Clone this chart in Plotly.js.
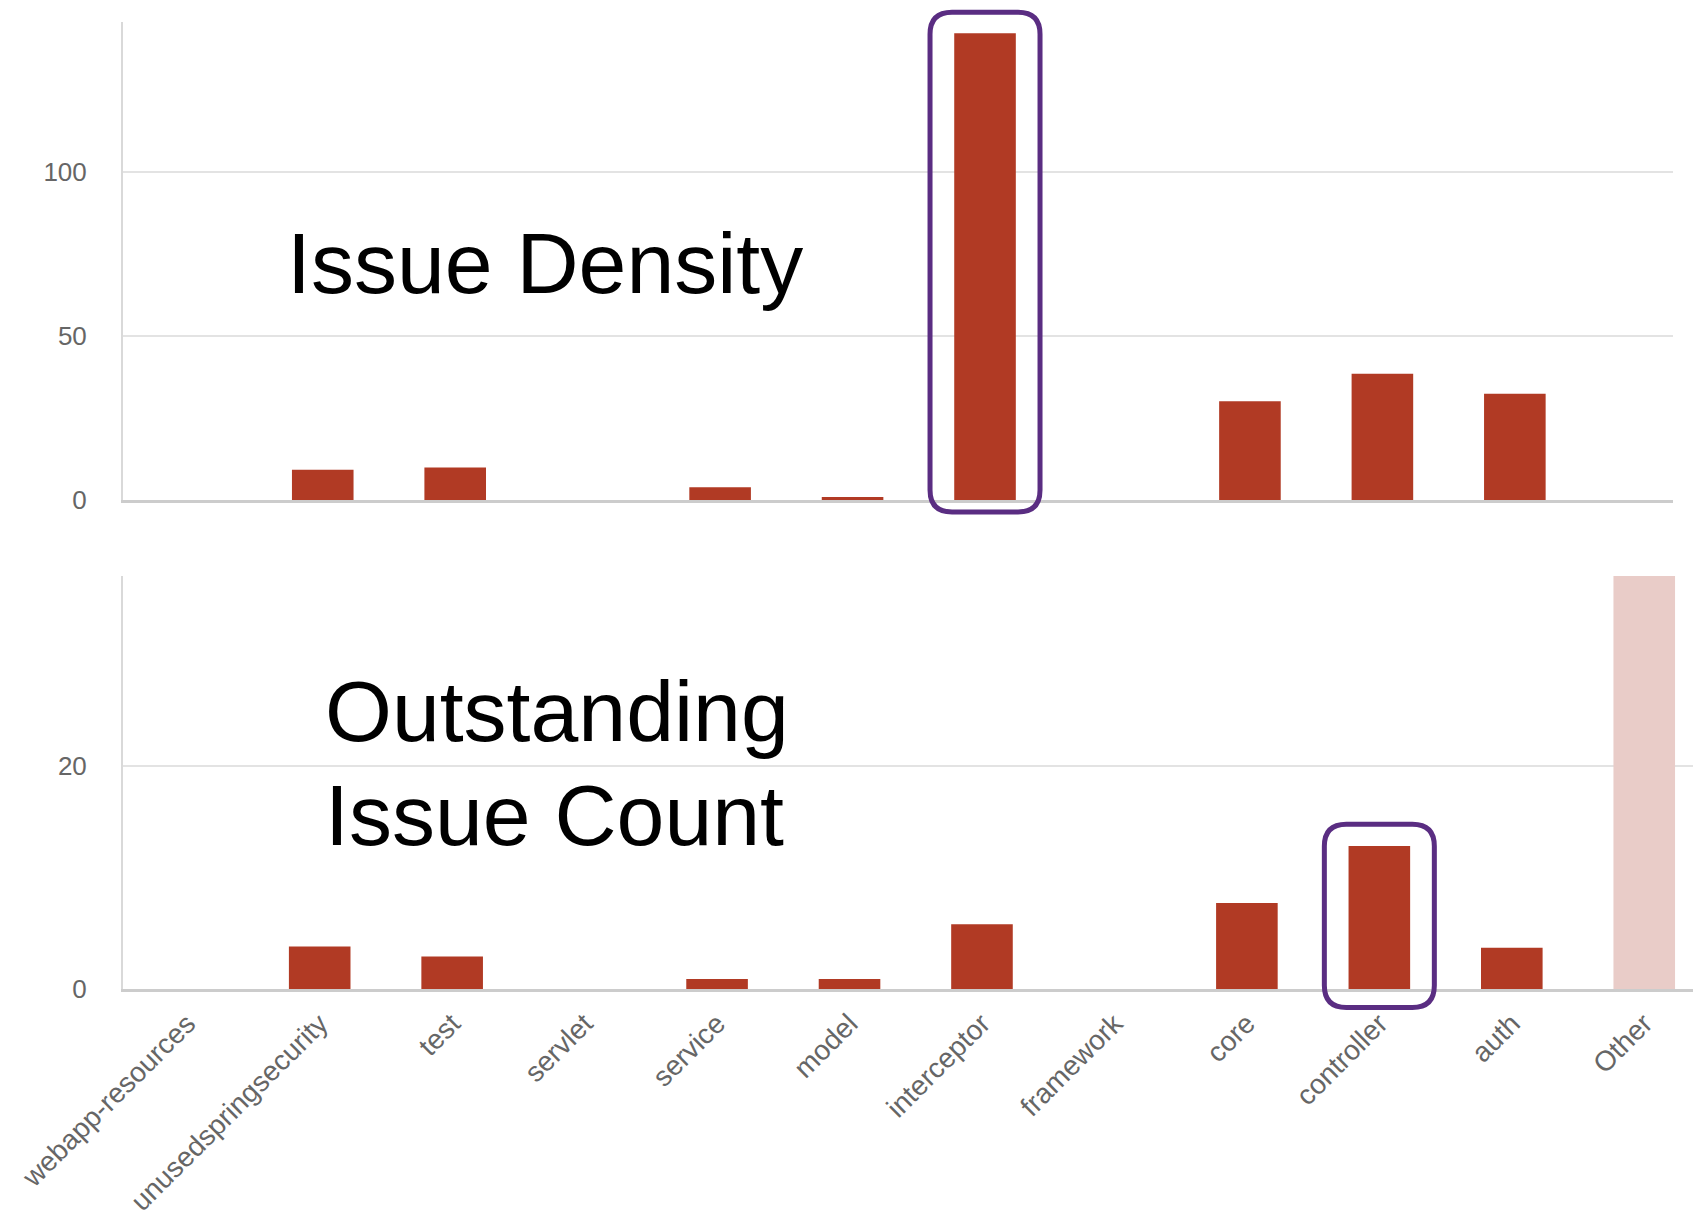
<!DOCTYPE html>
<html>
<head>
<meta charset="utf-8">
<script src="https://cdn.plot.ly/plotly-3.0.1.min.js"></script>
<style>html,body{margin:0;padding:0;background:#fff;}#chart{width:1693px;height:1222px;}</style>
</head>
<body>
<div id="chart"></div>
<script>
// ---- data ----
const categories = ["webapp-resources","unusedspringsecurity","test","servlet","service","model","interceptor","framework","core","controller","auth","Other"];
const issueDensity = [0, 9.2, 9.9, 0, 3.9, 0.9, 142.3, 0, 30.1, 38.5, 32.4, 0];
const outstandingCount = [0, 3.8, 2.9, 0, 0.9, 0.9, 5.8, 0, 7.7, 12.8, 3.7, 37.3];
const densityTicks = [0, 50, 100];
const countTicks = [0, 20];
const highlightTop = "interceptor";
const highlightBottom = "controller";

// ---- layout geometry ----
const W = 1693, H = 1222;
const M = {l: 123, r: 0, t: 22, b: 233};
const plotW = W - M.l - M.r, plotH = H - M.t - M.b;
const xRangeTop = [-0.508, 11.194];
const xRangeBot = [-0.485, 11.368];
const yRangeTop = [0, 145.7];
const yRangeBot = [0, 37];
const xDomTop = [0, 1550 / plotW];
const yDomTop = [0.5057, 1];
const yDomBot = [0, 0.4271];

const barColor = "#b13a24";
const otherColor = "#e9ccc8";
const gridColor = "#e3e3e3";
const font = "Liberation Sans, Arial, sans-serif";

const traces = [
  {type: "bar", x: categories, y: issueDensity, xaxis: "x", yaxis: "y",
   marker: {color: barColor}, hoverinfo: "x+y"},
  {type: "bar", x: categories, y: outstandingCount, xaxis: "x2", yaxis: "y2",
   marker: {color: categories.map(c => c === "Other" ? otherColor : barColor)}, hoverinfo: "x+y"}
];

// helpers mapping data -> pixel -> paper for the highlight frames
function xPix(idx, range, dom) {
  return M.l + plotW * (dom[0] + (dom[1] - dom[0]) * (idx - range[0]) / (range[1] - range[0]));
}
function yPix(v, range, dom) {
  const frac = dom[0] + (dom[1] - dom[0]) * (v - range[0]) / (range[1] - range[0]);
  return M.t + plotH * (1 - frac);
}
function toPX(px) { return (px - M.l) / plotW; }
function toPY(py) { return (M.t + plotH - py) / plotH; }
function roundRect(x0, x1, y0, y1, r) {
  const p = (x, y) => toPX(x).toFixed(5) + "," + toPY(y).toFixed(5);
  return "M" + p(x0 + r, y0) + " L" + p(x1 - r, y0) + " Q" + p(x1, y0) + " " + p(x1, y0 + r) +
         " L" + p(x1, y1 - r) + " Q" + p(x1, y1) + " " + p(x1 - r, y1) +
         " L" + p(x0 + r, y1) + " Q" + p(x0, y1) + " " + p(x0, y1 - r) +
         " L" + p(x0, y0 + r) + " Q" + p(x0, y0) + " " + p(x0 + r, y0) + " Z";
}
const iTop = categories.indexOf(highlightTop);
const iBot = categories.indexOf(highlightBottom);
const cxTop = xPix(iTop, xRangeTop, xDomTop);
const cxBot = xPix(iBot, xRangeBot, [0, 1]);
const topRect = roundRect(cxTop - 55, cxTop + 55,
  yPix(issueDensity[iTop], yRangeTop, yDomTop) - 21, yPix(0, yRangeTop, yDomTop) + 12, 22);
const botRect = roundRect(cxBot - 55, cxBot + 55,
  yPix(outstandingCount[iBot], yRangeBot, yDomBot) - 22, yPix(0, yRangeBot, yDomBot) + 18.5, 22);

const axisY = {
  showline: true, linecolor: "#d9d9d9", linewidth: 2,
  showgrid: true, gridcolor: gridColor, gridwidth: 2,
  zeroline: false, ticks: "", ticklabelstandoff: 29,
  tickfont: {family: font, size: 26, color: "#666666"}
};
const axisX = {
  type: "category", showline: true, linecolor: "#cccccc", linewidth: 3,
  showgrid: false, zeroline: false, ticks: ""
};

const bigFont = {family: font, size: 86, color: "#000000"};
const layout = {
  width: W, height: H,
  margin: M,
  paper_bgcolor: "#ffffff", plot_bgcolor: "#ffffff",
  showlegend: false,
  bargap: 0.535,
  font: {family: font},
  xaxis: Object.assign({}, axisX, {domain: xDomTop, anchor: "y", range: xRangeTop, showticklabels: false}),
  yaxis: Object.assign({}, axisY, {domain: yDomTop, anchor: "x", range: yRangeTop, tickvals: densityTicks}),
  xaxis2: Object.assign({}, axisX, {domain: [0, 1], anchor: "y2", range: xRangeBot,
    tickangle: -45, ticklabelstandoff: 4, tickfont: {family: font, size: 28, color: "#666666"}}),
  yaxis2: Object.assign({}, axisY, {domain: yDomBot, anchor: "x2", range: yRangeBot, tickvals: countTicks}),
  annotations: [
    {text: "Issue Density", xref: "paper", yref: "paper", x: 0.1034, y: 0.7508,
     xanchor: "left", yanchor: "middle", showarrow: false, align: "left", font: bigFont},
    {text: "Outstanding", xref: "paper", yref: "paper", x: 0.1274, y: 0.2875,
     xanchor: "left", yanchor: "middle", showarrow: false, align: "left", font: bigFont},
    {text: "Issue Count", xref: "paper", yref: "paper", x: 0.1274, y: 0.1799,
     xanchor: "left", yanchor: "middle", showarrow: false, align: "left", font: bigFont}
  ],
  shapes: [
    {type: "path", xref: "paper", yref: "paper", path: topRect, layer: "above",
     line: {color: "#5a2d82", width: 5}, fillcolor: "rgba(0,0,0,0)"},
    {type: "path", xref: "paper", yref: "paper", path: botRect, layer: "above",
     line: {color: "#5a2d82", width: 5}, fillcolor: "rgba(0,0,0,0)"}
  ]
};

Plotly.newPlot("chart", traces, layout, {staticPlot: true, displayModeBar: false});
</script>
</body>
</html>
